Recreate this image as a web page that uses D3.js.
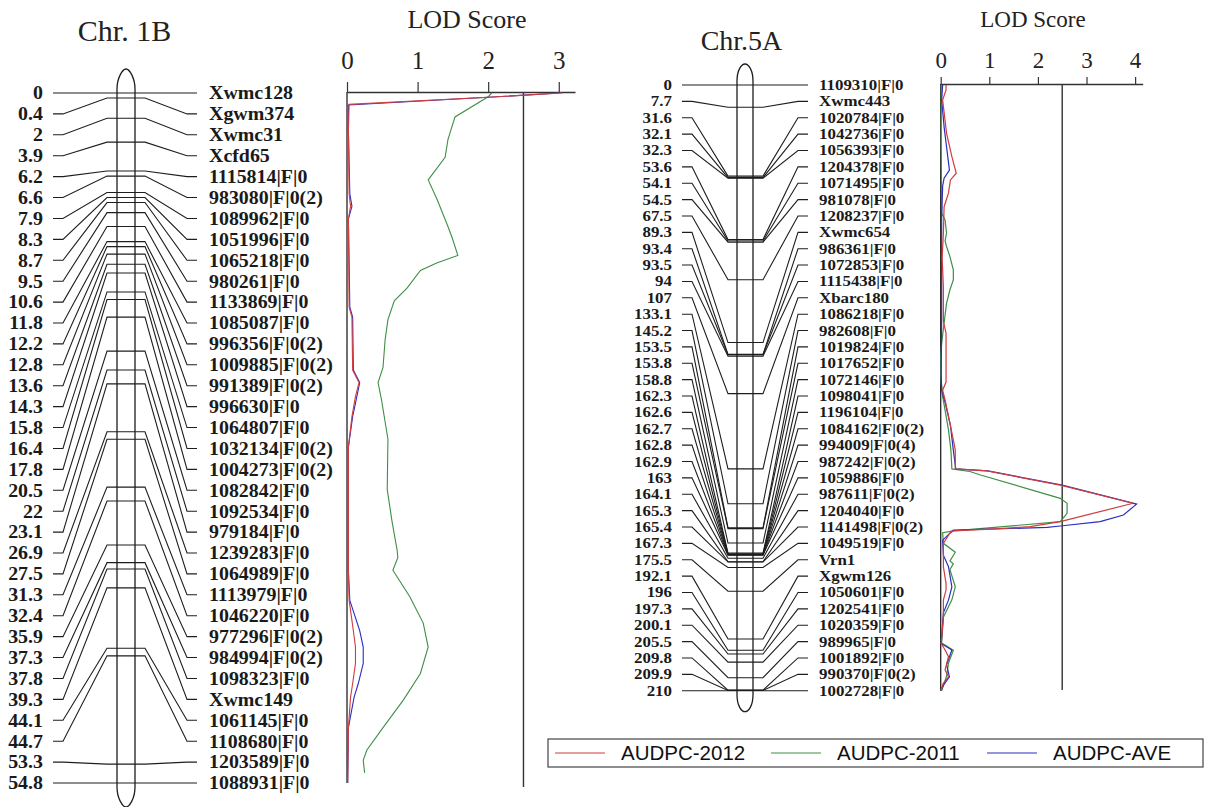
<!DOCTYPE html>
<html><head><meta charset="utf-8">
<script src="https://cdn.jsdelivr.net/npm/d3@7"></script>
<style>body{margin:0;background:#fff} svg{display:block}</style>
</head><body><svg id="c" width="1207" height="807"></svg>
<script>
// ---------- DATA ----------
const chr1B_pos = [0,0.4,2,3.9,6.2,6.6,7.9,8.3,8.7,9.5,10.6,11.8,12.2,12.8,13.6,14.3,15.8,16.4,17.8,20.5,22,23.1,26.9,27.5,31.3,32.4,35.9,37.3,37.8,39.3,44.1,44.7,53.3,54.8];
const chr1B_markers = ["Xwmc128","Xgwm374","Xwmc31","Xcfd65","1115814|F|0","983080|F|0(2)","1089962|F|0","1051996|F|0","1065218|F|0","980261|F|0","1133869|F|0","1085087|F|0","996356|F|0(2)","1009885|F|0(2)","991389|F|0(2)","996630|F|0","1064807|F|0","1032134|F|0(2)","1004273|F|0(2)","1082842|F|0","1092534|F|0","979184|F|0","1239283|F|0","1064989|F|0","1113979|F|0","1046220|F|0","977296|F|0(2)","984994|F|0(2)","1098323|F|0","Xwmc149","1061145|F|0","1108680|F|0","1203589|F|0","1088931|F|0"];

const chr5A_pos = [0,7.7,31.6,32.1,32.3,53.6,54.1,54.5,67.5,89.3,93.4,93.5,94,107,133.1,145.2,153.5,153.8,158.8,162.3,162.6,162.7,162.8,162.9,163,164.1,165.3,165.4,167.3,175.5,192.1,196,197.3,200.1,205.5,209.8,209.9,210];
const chr5A_markers = ["1109310|F|0","Xwmc443","1020784|F|0","1042736|F|0","1056393|F|0","1204378|F|0","1071495|F|0","981078|F|0","1208237|F|0","Xwmc654","986361|F|0","1072853|F|0","1115438|F|0","Xbarc180","1086218|F|0","982608|F|0","1019824|F|0","1017652|F|0","1072146|F|0","1098041|F|0","1196104|F|0","1084162|F|0(2)","994009|F|0(4)","987242|F|0(2)","1059886|F|0","987611|F|0(2)","1204040|F|0","1141498|F|0(2)","1049519|F|0","Vrn1","Xgwm126","1050601|F|0","1202541|F|0","1020359|F|0","989965|F|0","1001892|F|0","990370|F|0(2)","1002728|F|0"];

const lodTicks1B = [0,1,2,3];
const lodTicks5A = [0,1,2,3,4];
const threshold = 2.5;
const seriesNames = ["AUDPC-2012","AUDPC-2011","AUDPC-AVE"];

// [cM, LOD]
const lod1B_2012 = [[0,3.05],[0.34,2.0],[0.9,0.03],[3,0.02],[8,0.03],[9,0.05],[10,0.02],[17,0.03],[17.8,0.07],[22,0.08],[23,0.17],[24.1,0.12],[25.7,0.07],[28.1,0.02],[38,0.02],[40.3,0.03],[42.7,0.09],[44,0.12],[45.3,0.12],[46.9,0.08],[48,0.05],[50.4,0.02],[54.8,0.01]];
const lod1B_2011 = [[0,2.05],[0.3,2.0],[1.9,1.53],[3.7,1.43],[5.1,1.39],[6.9,1.15],[8.5,1.28],[10.6,1.43],[11.5,1.49],[12.9,1.57],[13.5,1.27],[14.1,1.04],[15.5,0.85],[16.5,0.67],[18,0.58],[19.6,0.54],[21.8,0.51],[23.0,0.44],[24.4,0.49],[27.5,0.58],[31.5,0.57],[34.1,0.64],[36.3,0.71],[36.9,0.72],[37.9,0.65],[40.0,0.89],[42.1,1.08],[44.0,1.15],[46.1,1.04],[48.2,0.8],[50.4,0.51],[52.2,0.28],[53.0,0.23],[54.0,0.25]];
const lod1B_ave = [[0,3.0],[0.34,2.0],[0.95,0.02],[3,0.02],[8,0.04],[9,0.07],[10,0.02],[17,0.04],[17.8,0.08],[22,0.09],[23,0.18],[24.1,0.14],[25.7,0.08],[28.1,0.02],[38,0.02],[40.3,0.04],[42.7,0.18],[44,0.23],[45.3,0.23],[46.9,0.16],[48,0.1],[50.4,0.02],[54.8,0.01]];

const lod5A_2012 = [[0,0.11],[1.7,0.11],[5.2,0.04],[16.7,0.12],[24.8,0.23],[30.6,0.32],[32.9,0.2],[37.5,0.16],[42.2,0.07],[51.4,0.055],[60,0.03],[70,0.055],[82,0.055],[86,0.11],[103,0.11],[105.8,0.04],[109.2,0.09],[117.2,0.19],[123,0.26],[126.6,0.3],[133.1,0.3],[133.8,0.95],[138.7,2.46],[145,3.96],[151.4,2.46],[153.1,1.84],[153.8,1.23],[154.6,0.26],[155.3,0.19],[158.9,0.055],[167,0.055],[172.8,0.11],[175.1,0.11],[178.6,0.055],[184.4,0.055],[193.6,0.01],[195.9,0.09],[198.2,0.16],[202.8,0.09],[205.2,0.16],[207.5,0.05],[210,0.0]];
const lod5A_2011 = [[0,0.01],[20,0.01],[44.4,0.02],[46.8,0.09],[51.4,0.12],[54,0.09],[56,0.12],[59.5,0.19],[64.1,0.26],[67.6,0.26],[71,0.19],[75.7,0.12],[82.5,0.07],[89.5,0.02],[94,0.0],[101,0.0],[108,0.04],[112.7,0.09],[119.6,0.16],[126.6,0.21],[133.1,0.23],[134,0.6],[135.2,0.82],[143.3,2.46],[145,2.6],[148.5,2.6],[151.4,2.46],[154.6,0.26],[155.2,0.04],[158.9,0.055],[162,0.3],[165,0.19],[166,0.26],[168,0.19],[174,0.3],[178.5,0.23],[184.5,0.055],[193.5,0.02],[196,0.26],[200.4,0.16],[205,0.12],[210,0.02]];
const lod5A_ave = [[0,0.04],[5.2,0.02],[14.5,0.07],[21.4,0.12],[29.5,0.18],[32.3,0.07],[35,0.04],[45.6,0.02],[60,0.02],[80,0.02],[100,0.01],[106,0.02],[110,0.09],[118,0.2],[126.6,0.26],[133.1,0.31],[133.8,0.97],[138.7,2.5],[145.3,4.03],[149.1,3.76],[151.4,3.28],[152.9,2.46],[153.4,2.19],[154.3,0.26],[157.8,0.04],[163,0.055],[167,0.16],[174,0.23],[178.6,0.16],[183,0.055],[193.6,0.01],[195.9,0.23],[201,0.12],[205.2,0.18],[208,0.06],[210,0.0]];

// ---------- STYLE / LAYOUT ----------
const colors = {"AUDPC-2012":"#d23c3c","AUDPC-2011":"#3f8f45","AUDPC-AVE":"#2c2cc2"};
const serif = "'Liberation Serif','Times New Roman',serif";
const sans = "'Liberation Sans',Arial,sans-serif";
const ink = "#1e1e1e";

const svg = d3.select("#c");

const panels = [
  {title:"Chr. 1B", titleX:124.5, titleY:41, titleSize:30,
   pos:chr1B_pos, markers:chr1B_markers, ticks:lodTicks1B,
   series:{"AUDPC-2011":lod1B_2011,"AUDPC-AVE":lod1B_ave,"AUDPC-2012":lod1B_2012},
   y0:93, y1:783, barL:117, barR:135, outerL:53, elbowL:63, innerL:107, innerR:145, elbowR:187, outerR:197,
   leftTextX:43, rightTextX:209, fontSize:18.8, stretch:1.06, tip:24,
   lodX0:347, lodX1:575, lodMax:3.23, axisY:92, tickSize:10, tickPad:13, tickFont:25,
   lodTitleX:467, lodTitleY:28, lodTitleSize:26, threshEnd:787, lineW:1.1},
  {title:"Chr.5A", titleX:741.5, titleY:50, titleSize:28,
   pos:chr5A_pos, markers:chr5A_markers, ticks:lodTicks5A,
   series:{"AUDPC-2011":lod5A_2011,"AUDPC-AVE":lod5A_ave,"AUDPC-2012":lod5A_2012},
   y0:85, y1:690.7, barL:737, barR:753, outerL:682, elbowL:692, innerL:728, innerR:763, elbowR:798, outerR:808,
   leftTextX:672, rightTextX:819, fontSize:14.7, stretch:1.15, tip:21,
   lodX0:940.7, lodX1:1142.7, lodMax:4.156, axisY:84, tickSize:7, tickPad:9, tickFont:23,
   lodTitleX:1033, lodTitleY:27, lodTitleSize:23, threshEnd:690, lineW:1.2}
];

function stretchText(sel, k) {
  sel.each(function() {
    const L = this.getComputedTextLength();
    d3.select(this).attr("textLength", (L * k).toFixed(2)).attr("lengthAdjust", "spacingAndGlyphs");
  });
}

panels.forEach(p => {
  const n = p.pos.length;
  const maxPos = p.pos[n-1];
  const y = d3.scaleLinear().domain([0, maxPos]).range([p.y0, p.y1]);
  const row = d3.scaleLinear().domain([0, n-1]).range([p.y0, p.y1]);
  const g = svg.append("g");

  // title
  g.append("text").attr("x", p.titleX).attr("y", p.titleY).attr("text-anchor","middle")
    .attr("font-family", serif).attr("font-size", p.titleSize).attr("fill","#222").text(p.title);

  // chromosome outline
  const cx = (p.barL + p.barR)/2;
  const s1 = y(0) - 4, s2 = y(maxPos) + 4;
  const tT = y(0) - p.tip, tB = y(maxPos) + p.tip;
  const path = d3.path();
  path.moveTo(p.barL, s2); path.lineTo(p.barL, s1);
  path.bezierCurveTo(p.barL, s1-11, cx-3.5, tT, cx, tT);
  path.bezierCurveTo(cx+3.5, tT, p.barR, s1-11, p.barR, s1);
  path.lineTo(p.barR, s2);
  path.bezierCurveTo(p.barR, s2+11, cx+3.5, tB, cx, tB);
  path.bezierCurveTo(cx-3.5, tB, p.barL, s2+11, p.barL, s2);
  g.append("path").attr("d", path.toString()).attr("fill","none").attr("stroke", ink).attr("stroke-width",1.3);

  // connector lines
  const link = (d,i) => {
    const yl = row(i), yp = y(d);
    return `M${p.outerL},${yl}H${p.elbowL}L${p.innerL},${yp}H${p.innerR}L${p.elbowR},${yl}H${p.outerR}`;
  };
  g.selectAll("path.lk").data(p.pos).join("path").attr("class","lk")
    .attr("d", link).attr("fill","none").attr("stroke", ink).attr("stroke-width",1.1);

  // labels
  const pl = g.selectAll("text.pl").data(p.pos).join("text").attr("class","pl")
    .attr("x", p.leftTextX).attr("y", (d,i)=>row(i)).attr("dy","0.34em").attr("text-anchor","end")
    .attr("font-family", serif).attr("font-weight","bold").attr("font-size", p.fontSize).attr("fill","#1a1a1a")
    .text(d => String(d));
  const ml = g.selectAll("text.ml").data(p.markers).join("text").attr("class","ml")
    .attr("x", p.rightTextX).attr("y", (d,i)=>row(i)).attr("dy","0.34em")
    .attr("font-family", serif).attr("font-weight","bold").attr("font-size", p.fontSize).attr("fill","#1a1a1a")
    .text(d => d);
  stretchText(pl, p.stretch);
  stretchText(ml, p.stretch);

  // LOD plot
  const x = d3.scaleLinear().domain([0, p.lodMax]).range([p.lodX0, p.lodX1]);
  const ax = g.append("g").attr("transform", `translate(0,${p.axisY})`)
    .call(d3.axisTop(x).tickValues(p.ticks).tickSize(p.tickSize).tickSizeOuter(0).tickPadding(p.tickPad).tickFormat(d3.format("d")));
  ax.select(".domain").attr("stroke","#333").attr("stroke-width",1.3);
  ax.selectAll(".tick line").attr("stroke","#333").attr("stroke-width",1.2);
  ax.selectAll(".tick text").attr("font-family", serif).attr("font-size", p.tickFont).attr("fill","#222");

  g.append("text").attr("x", p.lodTitleX).attr("y", p.lodTitleY).attr("text-anchor","middle")
    .attr("font-family", serif).attr("font-size", p.lodTitleSize).attr("fill","#222").text("LOD Score");

  // vertical base axis
  g.append("line").attr("x1", x(0)).attr("x2", x(0)).attr("y1", p.axisY).attr("y2", y(maxPos))
    .attr("stroke","#222").attr("stroke-width",1.3);
  // threshold
  g.append("line").attr("x1", x(threshold)).attr("x2", x(threshold)).attr("y1", p.axisY).attr("y2", p.threshEnd)
    .attr("stroke","#333").attr("stroke-width",1.4);

  const line = d3.line().x(d => x(d[1])).y(d => y(d[0]));
  Object.entries(p.series).forEach(([name, data]) => {
    g.append("path").datum(data).attr("d", line).attr("fill","none")
      .attr("stroke", colors[name]).attr("stroke-width", p.lineW);
  });
});

// legend
const lg = svg.append("g");
lg.append("rect").attr("x",548).attr("y",739).attr("width",655).attr("height",28)
  .attr("fill","#fff").attr("stroke","#444").attr("stroke-width",1.2);
const legX = [555, 771, 987];
seriesNames.forEach((name,i) => {
  lg.append("line").attr("x1", legX[i]).attr("x2", legX[i]+50).attr("y1",753).attr("y2",753)
    .attr("stroke", colors[name]).attr("stroke-width",1.2);
  lg.append("text").attr("x", legX[i]+66).attr("y",760).attr("font-family", sans).attr("font-size",20.5)
    .attr("fill","#111").text(name);
});
</script></body></html>
